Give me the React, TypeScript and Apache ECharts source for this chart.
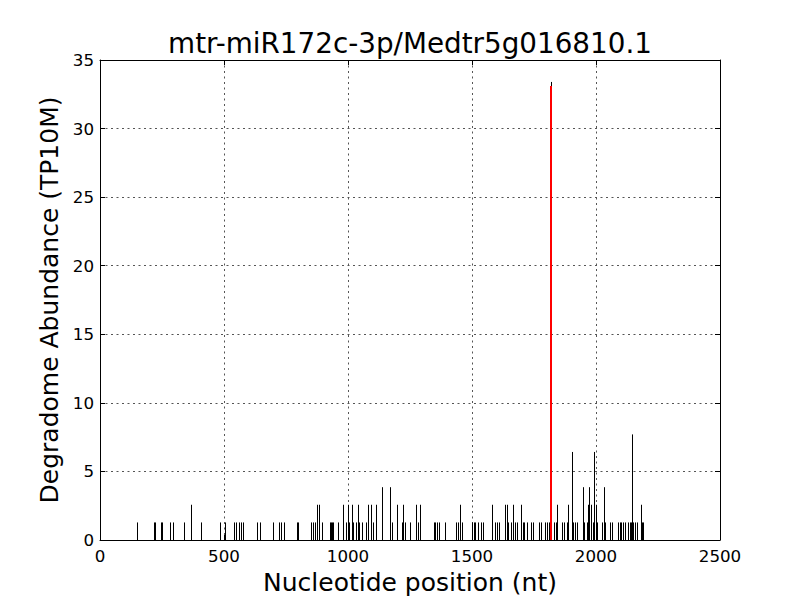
import React, { useEffect, useRef } from 'react';
import * as echarts from 'echarts';

const titleText = 'mtr-miR172c-3p/Medtr5g016810.1';
const xAxisLabel = 'Nucleotide position (nt)';
const yAxisLabel = 'Degradome Abundance (TP10M)';
const xRange = [0, 2500];
const xStep = 500;
const yRange = [0, 35];
const yStep = 5;

const positions = [
  149, 219, 223, 246, 251, 282, 293, 340, 368, 408, 485, 503, 541, 548, 562, 569, 575, 634, 646, 699,
  723, 730, 741, 796, 800, 851, 858, 867, 875, 884, 895, 927, 931, 935, 940, 958, 981, 991, 999, 1004,
  1015, 1021, 1031, 1039, 1046, 1055, 1071, 1082, 1093, 1100, 1113, 1136, 1169, 1179, 1196, 1216, 1223, 1230, 1250, 1274,
  1281, 1290, 1347, 1352, 1357, 1368, 1391, 1434, 1445, 1452, 1459, 1501, 1507, 1512, 1524, 1535, 1546, 1579, 1593, 1600,
  1610, 1633, 1640, 1647, 1656, 1667, 1673, 1683, 1696, 1704, 1711, 1720, 1737, 1747, 1770, 1778, 1794, 1802, 1810, 1819,
  1829, 1837, 1843, 1864, 1871, 1883, 1887, 1904, 1909, 1917, 1925, 1949, 1953, 1962, 1966, 1973, 1980, 1989, 1993, 1999,
  2003, 2025, 2031, 2036, 2056, 2063, 2087, 2095, 2100, 2110, 2117, 2130, 2137, 2141, 2146, 2150, 2157, 2164, 2180, 2184,
  2191,
];

const abundances = [
  1.28, 1.28, 1.28, 1.28, 1.28, 1.28, 1.28, 1.28, 2.57, 1.28, 1.28, 1.28, 1.28, 1.28, 1.28, 1.28, 1.28, 1.28, 1.28, 1.28,
  1.28, 1.28, 1.28, 1.28, 1.28, 1.28, 1.28, 1.28, 2.57, 2.57, 1.28, 1.28, 1.28, 1.28, 1.28, 1.28, 2.57, 1.28, 2.57, 1.28,
  2.57, 1.28, 1.28, 2.57, 1.28, 1.28, 1.28, 2.57, 2.57, 1.28, 2.57, 3.85, 3.85, 1.28, 2.57, 1.28, 2.57, 1.28, 1.28, 2.57,
  1.28, 2.57, 1.28, 1.28, 1.28, 1.28, 1.28, 1.28, 1.28, 2.57, 1.28, 1.28, 1.28, 1.28, 1.28, 1.28, 1.28, 2.57, 1.28, 1.28,
  1.28, 2.57, 2.57, 1.28, 1.28, 2.57, 1.28, 1.28, 2.57, 1.28, 1.28, 1.28, 1.28, 1.28, 1.28, 1.28, 1.28, 1.28, 1.28, 33.4,
  1.28, 1.28, 2.57, 1.28, 1.28, 1.28, 2.57, 6.42, 1.28, 1.28, 1.28, 3.85, 1.28, 1.28, 2.57, 3.85, 2.57, 1.28, 6.42, 2.57,
  1.28, 1.28, 3.85, 1.28, 1.28, 1.28, 1.28, 1.28, 1.28, 1.28, 1.28, 1.28, 1.28, 1.28, 7.7, 1.28, 1.28, 1.28, 2.57, 1.28,
  1.28,
];

const cleavagePositions = [1819];
const cleavageAbundances = [33.1];

const FONT = 'DejaVu Sans';

function spikeRenderer(color: string, width: number) {
  return (params: any, api: any) => {
    const x = api.value(0);
    const y = api.value(1);
    const p0 = api.coord([x, 0]);
    const p1 = api.coord([x, y]);
    const px = Math.round(p0[0]) + (width % 2 === 1 ? 0.5 : 0);
    return {
      type: 'line',
      shape: { x1: px, y1: p0[1], x2: px, y2: p1[1] },
      style: { stroke: color, lineWidth: width },
    };
  };
}

export default function App() {
  const ref = useRef<HTMLDivElement>(null);

  useEffect(() => {
    if (!ref.current) return;
    const chart = echarts.init(ref.current, undefined, { renderer: 'svg' });
    const spikes = positions.map((p, i) => [p, abundances[i]]);
    const cleavage = cleavagePositions.map((p, i) => [p, cleavageAbundances[i]]);

    const axisCommon = {
      type: 'value' as const,
      axisLine: { show: true, onZero: false, lineStyle: { color: '#000', width: 1 } },
      axisTick: { show: true, inside: true, length: 5, lineStyle: { color: '#000', width: 1 } },
    };
    const gridLine = { show: true, lineStyle: { color: '#555', width: 1, type: [2, 3.5] } };
    const plain = (v: number) => String(v);

    chart.setOption({
      animation: false,
      backgroundColor: '#fff',
      grid: { left: 100, right: 80, top: 60, bottom: 60, containLabel: false, outerBoundsMode: 'none' },
      graphic: [
        {
          type: 'text',
          x: 410,
          y: 43,
          style: {
            text: titleText,
            fontFamily: FONT,
            fontSize: 27.8,
            fill: '#000',
            textAlign: 'center',
            textVerticalAlign: 'middle',
          },
        },
      ],
      xAxis: [
        {
          ...axisCommon,
          position: 'bottom',
          min: xRange[0],
          max: xRange[1],
          interval: xStep,
          name: xAxisLabel,
          nameLocation: 'middle',
          nameGap: 30,
          nameTextStyle: { fontFamily: FONT, fontSize: 25, color: '#000' },
          axisLabel: { fontFamily: FONT, fontSize: 16.7, color: '#000', margin: 7, formatter: plain },
          splitLine: gridLine,
        },
        {
          ...axisCommon,
          position: 'top',
          min: xRange[0],
          max: xRange[1],
          interval: xStep,
          axisLabel: { show: false },
          splitLine: { show: false },
        },
      ],
      yAxis: [
        {
          ...axisCommon,
          position: 'left',
          min: yRange[0],
          max: yRange[1],
          interval: yStep,
          name: yAxisLabel,
          nameLocation: 'middle',
          nameGap: 38,
          nameTextStyle: { fontFamily: FONT, fontSize: 25, color: '#000' },
          axisLabel: { fontFamily: FONT, fontSize: 16.7, color: '#000', margin: 6, formatter: plain },
          splitLine: gridLine,
        },
        {
          ...axisCommon,
          position: 'right',
          min: yRange[0],
          max: yRange[1],
          interval: yStep,
          axisLabel: { show: false },
          splitLine: { show: false },
        },
      ],
      series: [
        {
          type: 'custom',
          xAxisIndex: 0,
          yAxisIndex: 0,
          data: spikes,
          renderItem: spikeRenderer('#000', 1),
          z: 3,
        },
        {
          type: 'custom',
          xAxisIndex: 0,
          yAxisIndex: 0,
          data: cleavage,
          renderItem: spikeRenderer('#ff0000', 2),
          z: 4,
        },
      ],
    });

    return () => chart.dispose();
  }, []);

  return (
    <div
      ref={ref}
      style={{ position: 'fixed', left: 0, top: 0, width: 800, height: 600, background: '#fff' }}
    />
  );
}
